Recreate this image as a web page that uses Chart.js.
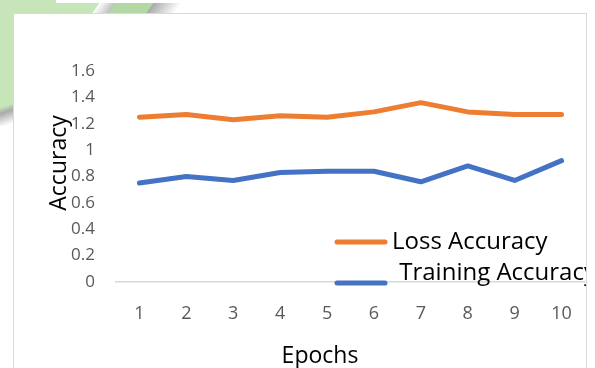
<!DOCTYPE html>
<html><head><meta charset="utf-8">
<script src="https://cdn.jsdelivr.net/npm/chart.js@4/dist/chart.umd.min.js"></script>
<style>
html,body{margin:0;padding:0;background:#fff;width:595px;height:368px;overflow:hidden;position:relative}
.g{position:absolute;background:#c6e5b8}
#s1{position:absolute;left:96px;top:3px;width:20px;height:10px;background:linear-gradient(90deg,#fff,#b0b0b0);transform:skewX(-35deg)}
#s2{position:absolute;left:112px;top:3px;width:40px;height:10px;background:#b3d8a4;transform:skewX(-35deg)}
#s3{position:absolute;left:150px;top:3px;width:28px;height:10px;background:linear-gradient(90deg,#a8a8a8,#fff);transform:skewX(-35deg)}
#s4{position:absolute;left:0;top:100px;width:14px;height:26px;background:linear-gradient(160deg,#c6e5b8 0%,#c6e5b8 25%,#aaa 45%,#fff 90%)}
#box{position:absolute;left:13px;top:13px;width:572px;height:400px;border:1px solid #d9d9d9;background:#fff}
#c{position:absolute;left:0;top:0}
</style></head>
<body>
<div class="g" style="left:0;top:0;width:56px;height:13px"></div>
<div class="g" style="left:0;top:3px;width:100px;height:10px"></div>
<div class="g" style="left:0;top:0;width:14px;height:102px"></div>
<div id="s1"></div><div id="s2"></div><div id="s3"></div><div id="s4"></div>
<div id="box"></div>
<canvas id="c" width="586" height="368"></canvas>
<script>
const epochs = ['1','2','3','4','5','6','7','8','9','10'];
const lossAccuracy = [1.25, 1.27, 1.23, 1.26, 1.25, 1.29, 1.36, 1.29, 1.27, 1.27];
const trainingAccuracy = [0.75, 0.80, 0.77, 0.83, 0.84, 0.84, 0.76, 0.88, 0.77, 0.92];
const seriesNames = ['Loss Accuracy', ' Training Accuracy'];
const yAxisTitle = 'Accuracy';
const xAxisTitle = 'Epochs';

const FONT = "'Open Sans', sans-serif";

const overlay = {
  id: 'overlay',
  afterDraw(chart) {
    const ctx = chart.ctx;
    ctx.save();
    ctx.fillStyle = '#000';
    ctx.font = '23px ' + FONT;
    ctx.textAlign = 'center';
    ctx.textBaseline = 'alphabetic';
    ctx.fillText(xAxisTitle, 320, 363);
    ctx.save();
    ctx.translate(66, 163);
    ctx.rotate(-Math.PI / 2);
    ctx.fillText(yAxisTitle, 0, 0);
    ctx.restore();
    const items = [
      {ds: chart.data.datasets[0], ly: 242, tx: 392, ty: 249},
      {ds: chart.data.datasets[1], ly: 283, tx: 393, ty: 280}
    ];
    ctx.font = '24px ' + FONT;
    ctx.textAlign = 'left';
    items.forEach(it => {
      ctx.strokeStyle = it.ds.borderColor;
      ctx.lineWidth = 5;
      ctx.lineCap = 'round';
      ctx.beginPath();
      ctx.moveTo(337, it.ly);
      ctx.lineTo(385, it.ly);
      ctx.stroke();
      ctx.fillStyle = '#000';
      ctx.fillText(it.ds.label, it.tx, it.ty);
    });
    ctx.restore();
  }
};

new Chart(document.getElementById('c'), {
  type: 'line',
  data: {
    labels: epochs,
    datasets: [
      {label: seriesNames[0], data: lossAccuracy, borderColor: '#ED7D31', backgroundColor: '#ED7D31'},
      {label: seriesNames[1], data: trainingAccuracy, borderColor: '#4472C4', backgroundColor: '#4472C4'}
    ]
  },
  options: {
    responsive: false,
    animation: false,
    devicePixelRatio: 1,
    layout: {padding: {left: 0, right: 1, top: 71, bottom: 0}},
    elements: {
      line: {borderWidth: 5, borderCapStyle: 'round', borderJoinStyle: 'round', tension: 0},
      point: {radius: 0, hoverRadius: 0}
    },
    plugins: {legend: {display: false}, tooltip: {enabled: false}},
    scales: {
      x: {
        offset: true,
        grid: {display: false, drawTicks: false},
        border: {display: true, color: '#d9d9d9', width: 1.5},
        ticks: {color: '#595959', font: {family: FONT, size: 18}, padding: 21, maxRotation: 0, autoSkip: false},
        afterFit(s) { s.height = 86; s.paddingLeft = 0; s.paddingRight = 0; }
      },
      y: {
        min: 0, max: 1.6,
        grid: {display: false, drawTicks: false},
        border: {display: false},
        ticks: {stepSize: 0.2, color: '#595959', font: {family: FONT, size: 17}, padding: 21,
          callback: v => String(+v.toFixed(1))},
        afterFit(s) { s.width = 116; s.paddingTop = 0; s.paddingBottom = 0; }
      }
    }
  },
  plugins: [overlay]
});
</script>
</body></html>
